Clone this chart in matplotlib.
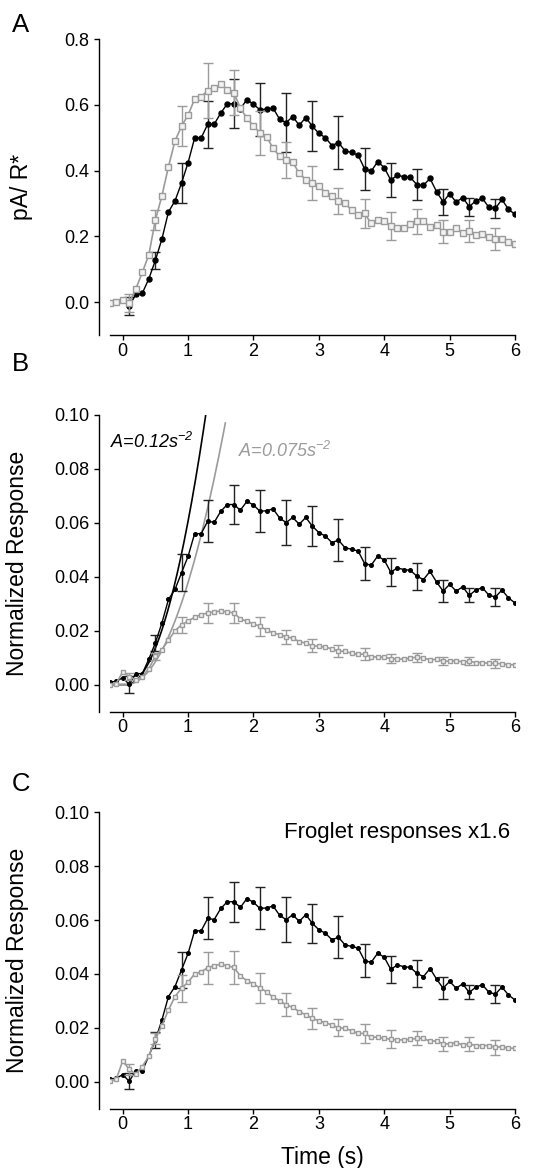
import numpy as np
import matplotlib
matplotlib.use('Agg')
import matplotlib.pyplot as plt

plt.rcParams['font.family'] = ['Liberation Sans', 'DejaVu Sans']
plt.rcParams['mathtext.fontset'] = 'custom'
plt.rcParams['mathtext.rm'] = 'Liberation Sans:italic'
plt.rcParams['mathtext.it'] = 'Liberation Sans:italic'
plt.rcParams['mathtext.default'] = 'rm'

# time axis, one sample every 0.1 s
t = np.round(np.arange(-0.2, 6.05, 0.1), 1)
t_err = t[3::4]   # error bars every 0.4 s, from 0.1 s

# panel A, pA/R*
a_black = [-0.004, 0.0, 0.007, -0.013, 0.024, 0.027, 0.071, 0.127, 0.192, 0.274,
           0.308, 0.362, 0.424, 0.499, 0.499, 0.541, 0.541, 0.575, 0.603, 0.603,
           0.588, 0.616, 0.601, 0.585, 0.587, 0.59, 0.556, 0.546, 0.564, 0.538,
           0.561, 0.535, 0.513, 0.5, 0.476, 0.485, 0.46, 0.455, 0.447, 0.405,
           0.398, 0.427, 0.409, 0.371, 0.386, 0.381, 0.379, 0.357, 0.355, 0.376,
           0.336, 0.305, 0.329, 0.304, 0.318, 0.29, 0.308, 0.316, 0.288, 0.285,
           0.312, 0.282, 0.267]
a_black_err = [0.027, 0.026, 0.061, 0.071, 0.075, 0.081, 0.09, 0.077, 0.08, 0.064,
               0.052, 0.047, 0.04, 0.028, 0.03]
a_gray = [-0.004, 0.0, 0.006, -0.002, 0.04, 0.09, 0.144, 0.25, 0.323, 0.412,
          0.49, 0.535, 0.569, 0.617, 0.625, 0.643, 0.65, 0.663, 0.645, 0.637,
          0.59, 0.559, 0.536, 0.514, 0.503, 0.468, 0.443, 0.433, 0.425, 0.392,
          0.372, 0.362, 0.352, 0.333, 0.323, 0.308, 0.3, 0.28, 0.264, 0.27,
          0.239, 0.249, 0.246, 0.232, 0.224, 0.225, 0.236, 0.246, 0.248, 0.227,
          0.234, 0.214, 0.212, 0.224, 0.209, 0.216, 0.204, 0.207, 0.199, 0.192,
          0.192, 0.184, 0.178]
a_gray_err = [0.028, 0.03, 0.06, 0.083, 0.069, 0.066, 0.055, 0.052, 0.04, 0.045,
              0.043, 0.038, 0.035, 0.033, 0.033]

# panels B and C, normalized response (black is the same in both)
n_black = [0.001, 0.0012, 0.0026, 0.0001, 0.0041, 0.0041, 0.0095, 0.0155, 0.0229, 0.0316,
           0.0353, 0.0415, 0.0476, 0.056, 0.056, 0.0606, 0.0602, 0.0643, 0.0668, 0.0668,
           0.0647, 0.068, 0.0666, 0.0643, 0.0645, 0.0652, 0.0618, 0.0601, 0.062, 0.0595,
           0.062, 0.0588, 0.0564, 0.0551, 0.0527, 0.0536, 0.0508, 0.0502, 0.0496, 0.0449,
           0.0443, 0.0477, 0.0462, 0.0417, 0.0433, 0.0427, 0.0424, 0.0402, 0.039, 0.042,
           0.0381, 0.0347, 0.0372, 0.0347, 0.0363, 0.0331, 0.0351, 0.036, 0.0332, 0.0325,
           0.0351, 0.0322, 0.0303]
n_black_err = [0.003, 0.003, 0.0068, 0.0078, 0.0074, 0.0078, 0.0084, 0.0073, 0.0078, 0.0062,
               0.0051, 0.005, 0.0042, 0.0026, 0.0034]
b_gray = [0.0, 0.0004, 0.0047, 0.003, 0.0019, 0.003, 0.006, 0.0105, 0.013, 0.0165,
          0.02, 0.0222, 0.0236, 0.025, 0.026, 0.0266, 0.027, 0.0273, 0.027, 0.0266,
          0.0244, 0.0235, 0.0226, 0.0216, 0.0203, 0.0192, 0.0186, 0.0178, 0.0172, 0.016,
          0.0154, 0.0145, 0.0142, 0.0139, 0.0133, 0.0124, 0.0124, 0.0116, 0.0112, 0.0114,
          0.0103, 0.0103, 0.0102, 0.0097, 0.0095, 0.0095, 0.0099, 0.0102, 0.0099, 0.0092,
          0.0094, 0.0087, 0.0087, 0.0089, 0.0084, 0.0087, 0.0082, 0.0082, 0.0079, 0.0079,
          0.0077, 0.0074, 0.0074]
b_gray_err = [0.0012, 0.0013, 0.003, 0.0038, 0.0038, 0.0034, 0.0026, 0.0024, 0.0022, 0.0022,
              0.0017, 0.0017, 0.0014, 0.0015, 0.0016]
c_gray = [0.0003, 0.0008, 0.0077, 0.0046, 0.0028, 0.0056, 0.0095, 0.016, 0.0208, 0.0266,
          0.0316, 0.0347, 0.0369, 0.04, 0.0408, 0.0423, 0.0431, 0.0436, 0.043, 0.0424,
          0.0392, 0.0375, 0.0363, 0.0347, 0.0334, 0.0313, 0.0301, 0.0285, 0.0276, 0.026,
          0.0248, 0.0235, 0.0226, 0.0219, 0.021, 0.02, 0.0198, 0.0189, 0.0179, 0.0179,
          0.0165, 0.0165, 0.0161, 0.0157, 0.0155, 0.0155, 0.0157, 0.0161, 0.0161, 0.0149,
          0.0152, 0.014, 0.014, 0.0145, 0.0136, 0.014, 0.0134, 0.0134, 0.0134, 0.0127,
          0.013, 0.0124, 0.0124]
c_gray_err = [0.002, 0.002, 0.005, 0.006, 0.006, 0.0055, 0.0043, 0.004, 0.0032, 0.0036,
              0.0033, 0.0026, 0.0026, 0.0026, 0.0027]

# amplification fits in panel B
fit_A = [0.12, 0.075]
fit_labels = ['A=0.12s$^{-2}$', 'A=0.075s$^{-2}$']
fit_tend = [1.27, 1.57]
t_eff = 0.05
gain = 1.12

BLACK = '#000000'
GRAY = '#9b9b9b'


def draw(ax, black, black_err, gray, gray_err, big):
    ms_b = 3.6 if big else 2.6
    ms_g = 4.2 if big else 3.2
    black = np.array(black)
    gray = np.array(gray)
    ax.errorbar(t_err, black[3::4], yerr=black_err, fmt='none', ecolor='#222222',
                elinewidth=1.0, capsize=3.5, capthick=1.0, zorder=2)
    ax.plot(t, black, '-o', color=BLACK, lw=1.0, ms=ms_b, zorder=3)
    ax.errorbar(t_err, gray[3::4], yerr=gray_err, fmt='none', ecolor=GRAY,
                elinewidth=1.0, capsize=3.5, capthick=1.0, zorder=4)
    ax.plot(t, gray, '-s', color=GRAY, lw=1.2, ms=ms_g, mfc='#f2f2f2', mec=GRAY,
            mew=1.0, zorder=5)


def style(ax, ylim, yticks, fmt):
    ax.set_xlim(-0.2, 6.0)
    ax.set_ylim(*ylim)
    ax.set_xticks(range(0, 7))
    ax.set_yticks(yticks)
    ax.set_yticklabels([fmt % v for v in yticks])
    for s in ['top', 'right']:
        ax.spines[s].set_visible(False)
    ax.spines['left'].set_position(('outward', 8))
    ax.spines['left'].set_linewidth(1.0)
    ax.spines['bottom'].set_linewidth(1.0)
    ax.tick_params(direction='out', length=3.5, width=1.0, labelsize=13)
    ax.tick_params(axis='x', pad=2)
    ax.tick_params(axis='y', pad=3)


fig = plt.figure(figsize=(5.44, 11.68), dpi=100)
left, width = 0.2015, 0.7452

axA = fig.add_axes([left, 0.7132, width, 0.2534])
draw(axA, a_black, a_black_err, a_gray, a_gray_err, True)
style(axA, (-0.1, 0.8), [0.0, 0.2, 0.4, 0.6, 0.8], '%.1f')
axA.set_ylabel('pA/ R*', fontsize=16.5)
axA.yaxis.set_label_coords(-0.19, 0.5)

axB = fig.add_axes([left, 0.3907, width, 0.254])
for A, lab, te, col in zip(fit_A, fit_labels, fit_tend, [BLACK, GRAY]):
    tf = np.linspace(-0.2, te, 200)
    rf = 0.5 * A * gain * np.clip(tf - t_eff, 0, None) ** 2
    axB.plot(tf, rf, color=col, lw=1.2, zorder=1)
draw(axB, n_black, n_black_err, b_gray, b_gray_err, False)
style(axB, (-0.01, 0.10), [0.0, 0.02, 0.04, 0.06, 0.08, 0.10], '%.2f')
axB.set_ylabel('Normalized Response', fontsize=16.5)
axB.yaxis.set_label_coords(-0.2, 0.5)
axB.text(-0.19, 0.09, fit_labels[0], color=BLACK, fontsize=13, style='italic',
         ha='left', va='center')
axB.text(1.77, 0.0866, fit_labels[1], color=GRAY, fontsize=13, style='italic',
         ha='left', va='center')

axC = fig.add_axes([left, 0.0509, width, 0.2536])
draw(axC, n_black, n_black_err, c_gray, c_gray_err, False)
style(axC, (-0.01, 0.10), [0.0, 0.02, 0.04, 0.06, 0.08, 0.10], '%.2f')
axC.set_ylabel('Normalized Response', fontsize=16.5)
axC.yaxis.set_label_coords(-0.2, 0.5)
axC.set_xlabel('Time (s)', fontsize=16.5)
axC.xaxis.set_label_coords(0.526, -0.128)
axC.text(5.92, 0.0927, 'Froglet responses x1.6', fontsize=16, ha='right', va='center')

fig.text(0.022, 0.989, 'A', fontsize=18.5, va='top', ha='left')
fig.text(0.022, 0.699, 'B', fontsize=18.5, va='top', ha='left')
fig.text(0.022, 0.339, 'C', fontsize=18.5, va='top', ha='left')

fig.savefig('out.png', dpi=100)
